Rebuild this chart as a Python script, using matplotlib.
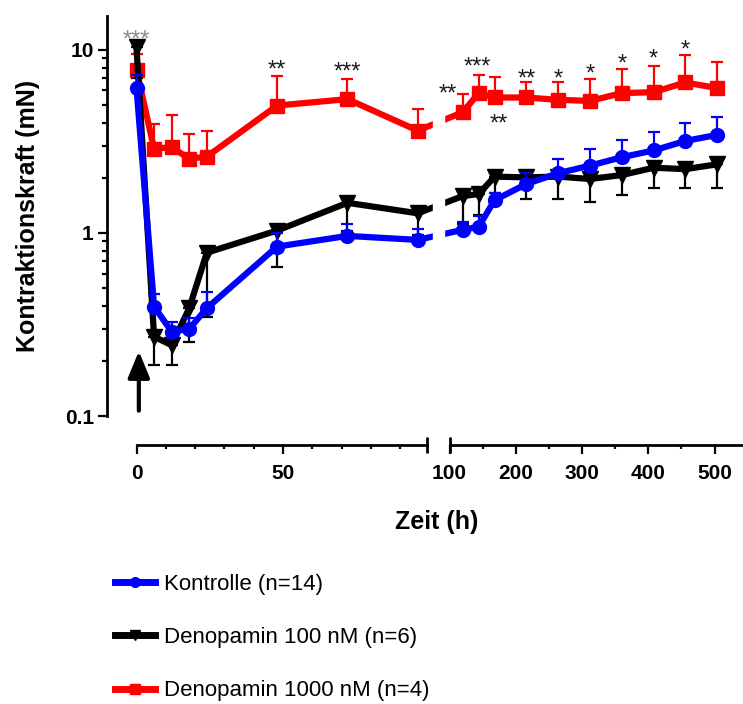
import numpy as np
import matplotlib.pyplot as plt
import matplotlib.transforms as mtrans
from matplotlib.lines import Line2D
from matplotlib.patches import Rectangle
from matplotlib.ticker import FixedLocator, NullFormatter

plt.rcParams['font.family'] = ['Liberation Sans', 'DejaVu Sans']

# data (h, mN)
hours = [0, 6, 12, 18, 24, 48, 72, 96, 120, 144, 168, 216, 264, 312, 360, 408, 456, 504]

kontrolle = [6.18, 0.396, 0.289, 0.299, 0.388, 0.842, 0.963, 0.916,
             1.04, 1.08, 1.51, 1.85, 2.12, 2.33, 2.59, 2.82, 3.18, 3.43]
kontrolle_upper = [7.30, 0.464, 0.325, 0.344, 0.478, 1.00, 1.12, 1.05,
                   1.14, 1.23, 1.66, 2.12, 2.54, 2.88, 3.22, 3.56, 3.98, 4.27]

deno100 = [10.3, 0.271, 0.244, 0.388, 0.780, 1.03, 1.46, 1.28,
           1.59, 1.63, 2.03, 2.01, 2.03, 1.97, 2.07, 2.27, 2.23, 2.37]
deno100_lower = [7.03, 0.190, 0.191, 0.255, 0.349, 0.655, 1.03, 0.975,
                 1.12, 1.25, 1.65, 1.53, 1.54, 1.47, 1.62, 1.77, 1.75, 1.77]

deno1000 = [7.78, 2.88, 2.94, 2.54, 2.61, 4.96, 5.38, 3.62,
            4.56, 5.80, 5.49, 5.49, 5.33, 5.26, 5.80, 5.87, 6.63, 6.18]
deno1000_upper = [9.45, 3.94, 4.41, 3.47, 3.61, 7.21, 6.94, 4.78,
                  5.75, 7.30, 7.12, 6.71, 6.71, 6.94, 7.87, 8.18, 9.39, 8.53]

# significance marks: time, height, text
star_hours = [48, 72, 120, 144, 168, 216, 264, 312, 360, 408, 456]
star_values = [8.49, 8.28, 6.28, 8.82, 4.30, 7.59, 7.59, 8.08, 9.16, 9.75, 10.9]
star_texts = ['**', '***', '**', '***', '**', '**', '*', '*', '*', '*', '*']
star_dx = [0, 0, -11, -1, 3, 0, 0, 0, 0, 0, 0]

labels = ['Kontrolle (n=14)', 'Denopamin 100 nM (n=6)', 'Denopamin 1000 nM (n=4)']

# broken time axis: 0-99 h stretched, gap, 100-540 h compressed
L, G, R = 2.93, 23.0, 0.6625


def fwd(t):
    t = np.asarray(t, float)
    return np.where(t <= 99, t * L,
                    np.where(t <= 100, 99 * L + (t - 99) * G, 99 * L + G + (t - 100) * R))


def inv(x):
    x = np.asarray(x, float)
    a = 99 * L
    b = a + G
    return np.where(x <= a, x / L, np.where(x <= b, 99 + (x - a) / G, 100 + (x - b) / R))


fig = plt.figure(figsize=(7.43, 7.04), dpi=100)
ax = fig.add_axes([107 / 743, (704 - 416) / 704, (743 - 107) / 743, (416 - 16) / 704])
ax.set_xscale('function', functions=(fwd, inv))
ax.set_yscale('log')

h = np.array(hours)
series = [
    (np.array(deno1000), np.array(deno1000_upper), 'up', '#ff0000', 's', 10, 2.0),
    (np.array(deno100), np.array(deno100_lower), 'down', 'black', 'v', 11, 2.2),
    (np.array(kontrolle), np.array(kontrolle_upper), 'up', '#0000ff', 'o', 10, 2.4),
]
for mean, err, side, col, mk, ms, z in series:
    if side == 'up':
        yerr = [np.zeros_like(mean), err - mean]
    else:
        yerr = [mean - err, np.zeros_like(mean)]
    ax.errorbar(h, mean, yerr=yerr, fmt='none', ecolor=col, elinewidth=1.6,
                capsize=4.3, capthick=1.6, zorder=z)
    ax.plot(h, mean, color=col, lw=4.5, marker=mk, ms=ms, zorder=z + 0.1)

# gap in the curves at the axis break
ax.add_patch(Rectangle((99.30, 0), 0.44, 1, transform=ax.get_xaxis_transform(),
                       color='white', zorder=2.6))

ax.annotate('***', (0, 12.4), xytext=(0, -10), textcoords='offset points',
            ha='center', va='baseline', fontsize=17, color='#8a8a8a')
for t, v, s, dx in zip(star_hours, star_values, star_texts, star_dx):
    ax.annotate(s, (t, v), xytext=(dx, -10), textcoords='offset points',
                ha='center', va='baseline', fontsize=17, color='#1a1a1a')

# stimulation arrow
ax.annotate('', xy=(0.8, 0.226), xytext=(0.8, 0.107),
            arrowprops=dict(arrowstyle='-|>,head_length=0.8,head_width=0.33',
                            color='black', lw=3, mutation_scale=20,
                            shrinkA=0, shrinkB=0))

ax.set_xlim(-10.07, 543)
ax.set_ylim(0.1, 15.3)

for s in ['top', 'right']:
    ax.spines[s].set_visible(False)
ax.spines['left'].set_linewidth(2)
ax.spines['bottom'].set_linewidth(2)
ax.spines['bottom'].set_position(('outward', 29 * 0.72))
ax.spines['bottom'].set_bounds(0, 99)

off = ax.get_xaxis_transform() + mtrans.ScaledTranslation(0, -0.29, fig.dpi_scale_trans)
ax.plot([100, 543], [0, 0], transform=off, color='black', lw=2, clip_on=False,
        solid_capstyle='butt')
ax.plot([99, 100], [0, 0], transform=off, color='black', ls='none', marker='|',
        ms=11, mew=2, clip_on=False)

ax.set_xticks([0, 50, 100, 200, 300, 400, 500])
ax.set_xticklabels(['0', '50', '100', '200', '300', '400', '500'])
ax.xaxis.set_minor_locator(FixedLocator([10, 20, 30, 40, 60, 70, 80, 90, 150, 250, 350, 450]))
ax.tick_params(axis='x', which='major', length=6.5, width=1.6, pad=7, labelsize=15)
ax.tick_params(axis='x', which='minor', length=3, width=1.6)

ax.set_yticks([0.1, 1, 10])
ax.set_yticklabels(['0.1', '1', '10'])
minors = [m * d for d in [0.1, 1, 10] for m in range(2, 10) if m * d < 15.3]
ax.yaxis.set_minor_locator(FixedLocator(minors))
ax.yaxis.set_minor_formatter(NullFormatter())
ax.tick_params(axis='y', which='major', length=6.5, width=1.6, pad=3, labelsize=15)
ax.tick_params(axis='y', which='minor', length=3.5, width=1.6)
for lab in ax.get_xticklabels() + ax.get_yticklabels():
    lab.set_fontweight('bold')

fig.text(28 / 743, 1 - 216 / 704, 'Kontraktionskraft (mN)', rotation=90,
         ha='center', va='center', fontsize=18, fontweight='bold')
fig.text(437 / 743, 1 - 522 / 704, 'Zeit (h)', ha='center', va='center',
         fontsize=18, fontweight='bold')

handles = [Line2D([], [], color='#0000ff', lw=5, marker='o', ms=7),
           Line2D([], [], color='black', lw=5, marker='v', ms=7),
           Line2D([], [], color='#ff0000', lw=5, marker='s', ms=7)]
fig.legend(handles, labels, loc='upper left', bbox_to_anchor=(115 / 743, 1 - 574 / 704),
           frameon=False, fontsize=16, handlelength=1.8, handletextpad=0.4,
           labelspacing=1.45, borderaxespad=0, borderpad=0)

fig.savefig('out.png', dpi=100)
